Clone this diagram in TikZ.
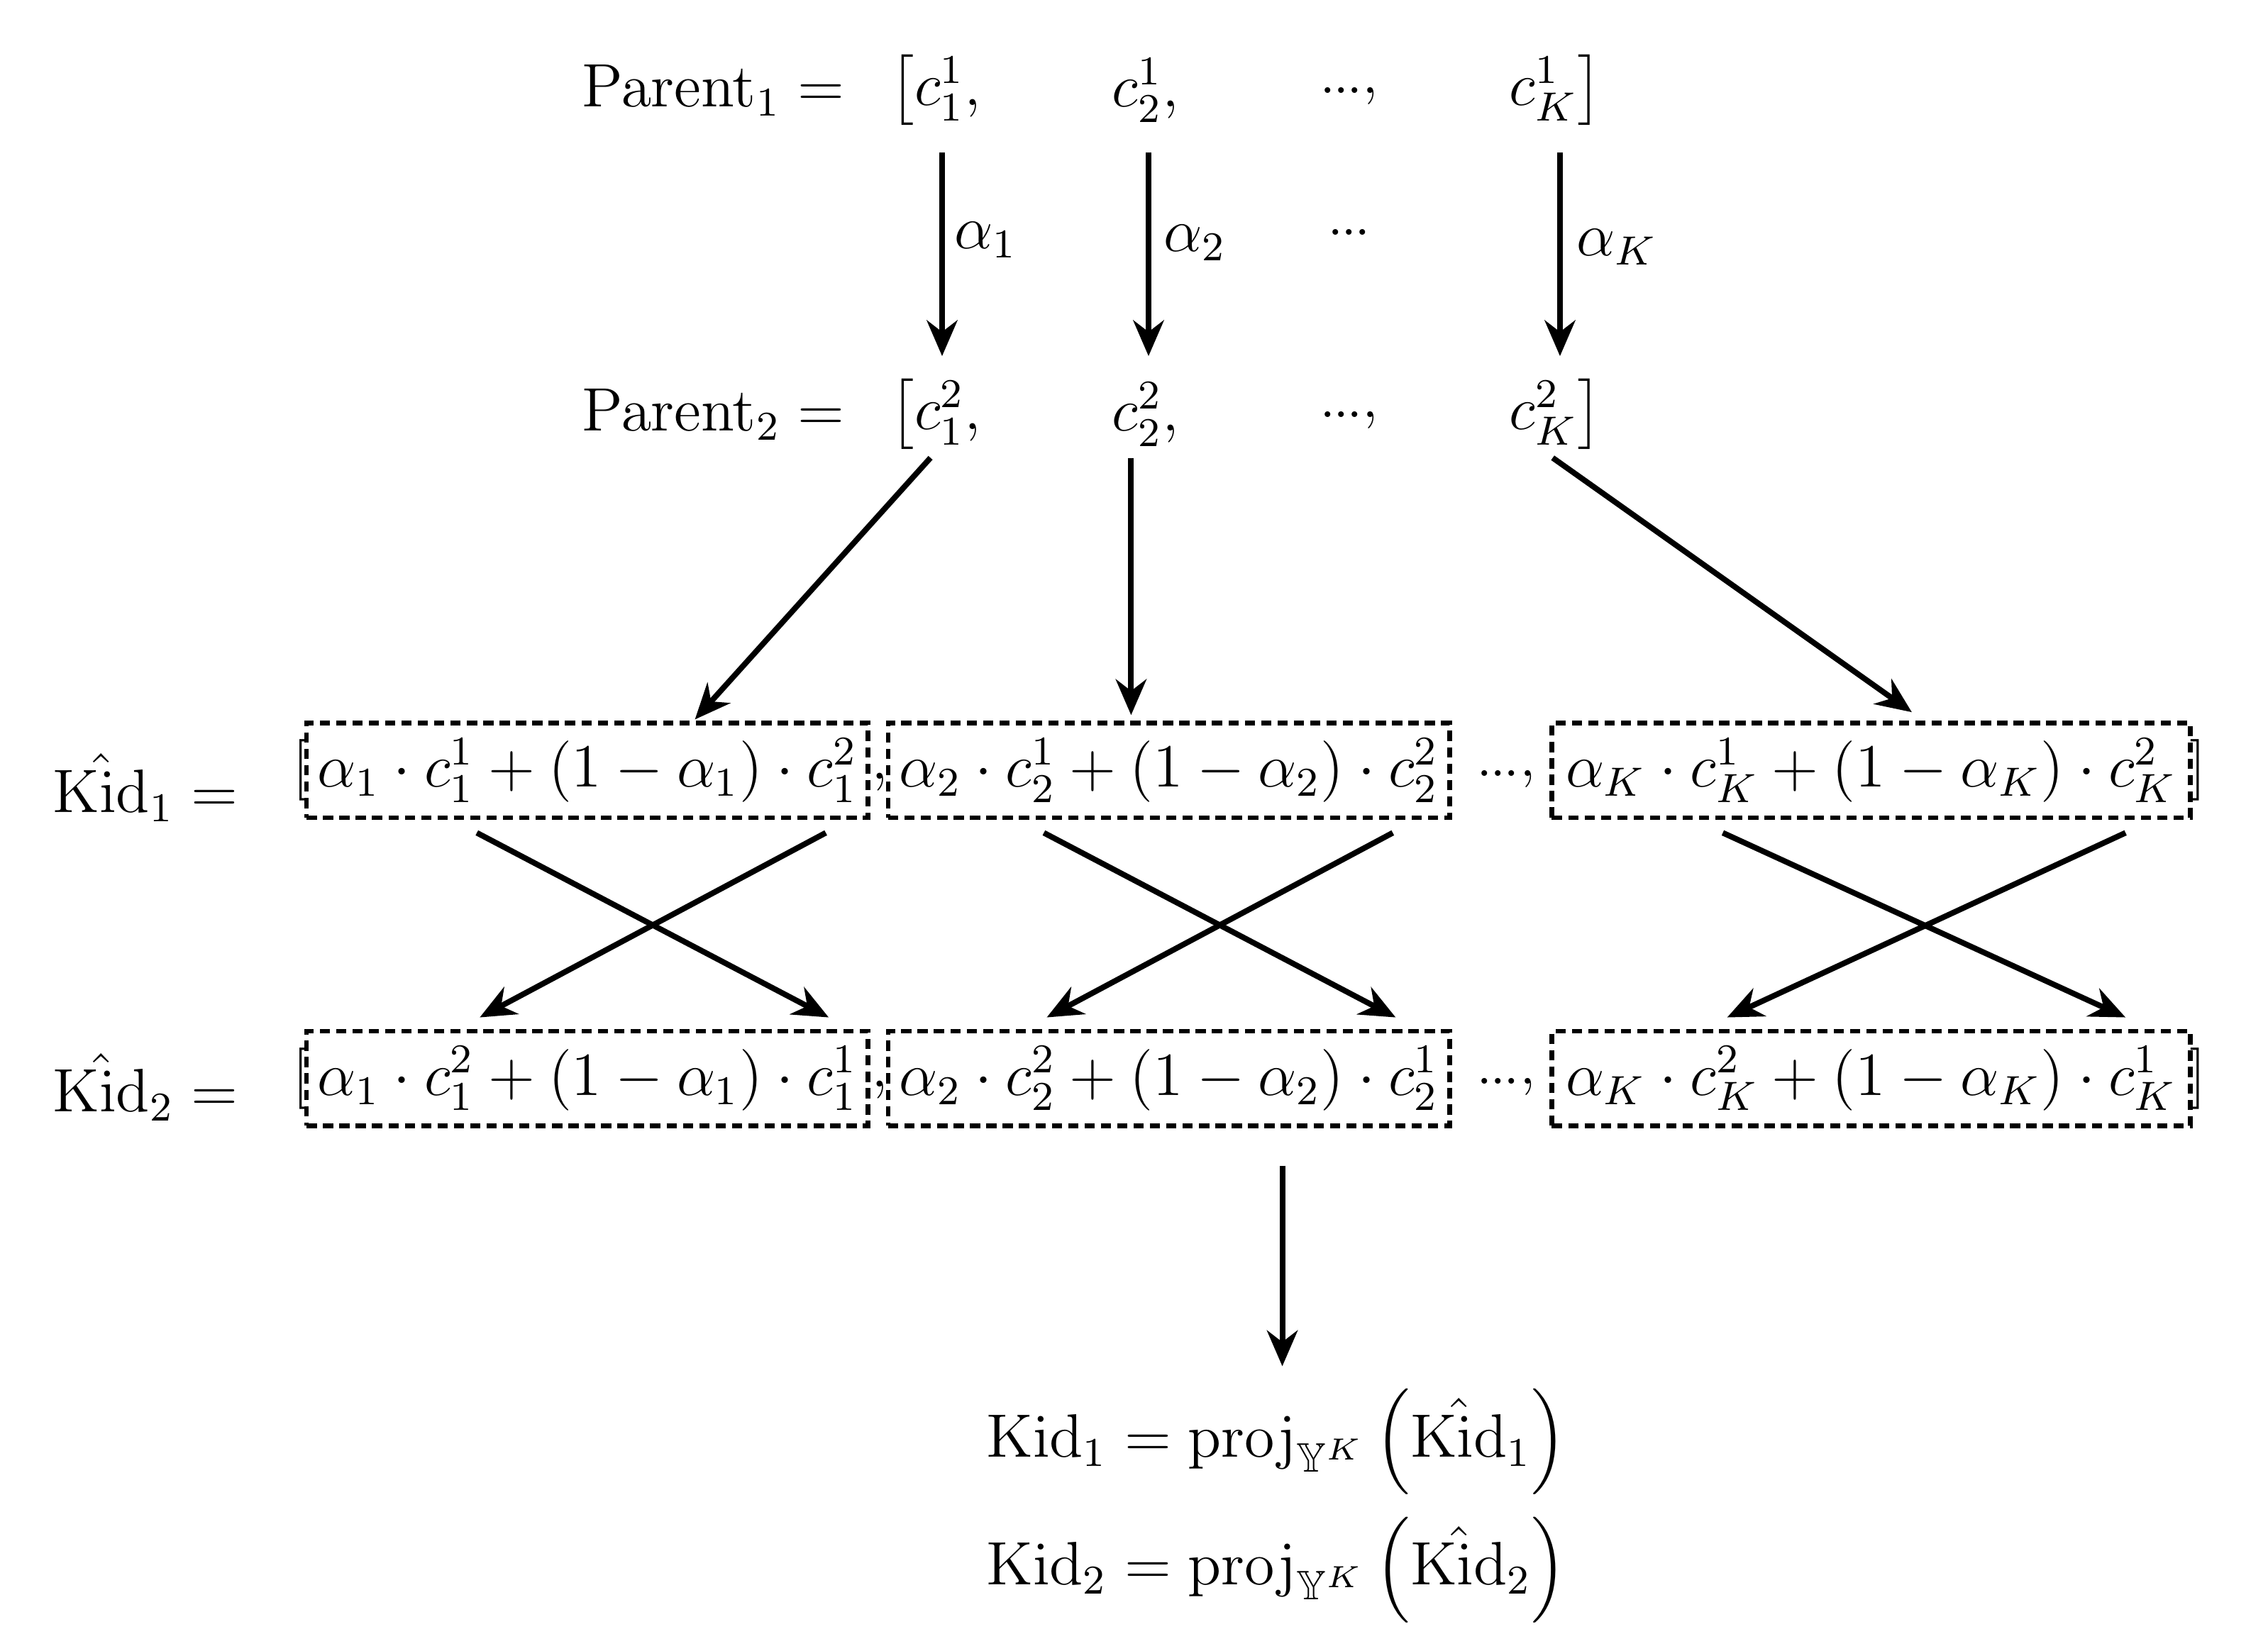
\documentclass[tikz,border=0pt]{standalone}
\usepackage{amsmath,amssymb}
\usetikzlibrary{arrows.meta}
\begin{document}
\begin{tikzpicture}[x=0.01cm,y=-0.01cm,font=\fontsize{11.5}{14}\selectfont,
  arr/.style={-{Stealth[length=7pt,width=6pt]},line width=1.1pt},
  box/.style={draw,dashed,line width=0.9pt,dash pattern=on 2pt off 1.2pt,minimum width=3.86cm,minimum height=0.65cm,inner sep=0pt},
  t/.style={inner sep=1pt}]
\useasboundingbox (0,0) rectangle (1560,1124);
% parent rows
\node[t,anchor=east] (P1) at (585,62) {$\mathrm{Parent}_1=$};
\node[t,anchor=west] (p11) at (608,62) {$\big[c_1^1,$};
\node[t] (p12) at (788,62) {$c_2^1,$};
\node[t] (p1d) at (928,66) {.\kern-0.5pt.\kern-0.5pt.,};
\node[t] (p1k) at (1070,62) {$c_K^1\big]$};
\node[t,anchor=east] (P2) at (585,285) {$\mathrm{Parent}_2=$};
\node[t,anchor=west] (p21) at (608,285) {$\big[c_1^2,$};
\node[t] (p22) at (788,285) {$c_2^2,$};
\node[t] (p2d) at (928,289) {.\kern-0.5pt.\kern-0.5pt.,};
\node[t] (p2k) at (1070,285) {$c_K^2\big]$};
\coordinate (a1s) at (648,105); \coordinate (a1e) at (648,245);
\coordinate (a2s) at (790,105); \coordinate (a2e) at (790,245);
\coordinate (aks) at (1073,105); \coordinate (ake) at (1073,245);
\draw[arr] (a1s) -- (a1e); \draw[arr] (a2s) -- (a2e); \draw[arr] (aks) -- (ake);
\node[t] (l1) at (678,165) {$\alpha_1$};
\node[t] (l2) at (822,167) {$\alpha_2$};
\node[t] (ld) at (928,160) {.\kern-0.5pt.\kern-0.5pt.};
\node[t] (lk) at (1112,170) {$\alpha_K$};
% kid rows
\node[t] (K1) at (100,542) {$\hat{\mathrm{Kid}}_1=$};
\node[t] (K2) at (100,748) {$\hat{\mathrm{Kid}}_2=$};
\node[box] (b11) at (404,530) {$\alpha_1\cdot c_1^1+(1-\alpha_1)\cdot c_1^2$};
\node[box] (b12) at (804,530) {$\alpha_2\cdot c_2^1+(1-\alpha_2)\cdot c_2^2$};
\node[box,minimum width=4.39cm] (b1k) at (1287,530) {$\alpha_K\cdot c_K^1+(1-\alpha_K)\cdot c_K^2$};
\node[box] (b21) at (404,742) {$\alpha_1\cdot c_1^2+(1-\alpha_1)\cdot c_1^1$};
\node[box] (b22) at (804,742) {$\alpha_2\cdot c_2^2+(1-\alpha_2)\cdot c_2^1$};
\node[box,minimum width=4.39cm] (b2k) at (1287,742) {$\alpha_K\cdot c_K^2+(1-\alpha_K)\cdot c_K^1$};
\foreach \r/\y in {1/530,2/742}{
  \node[t] (lb\r) at (207,\y) {$[$};
  \node[t] (c1\r) at (605,\y+8) {$,$};
  \node[t] (dd\r) at (1036,\y+6) {.\kern-0.5pt.\kern-0.5pt.,};
  \node[t] (rb\r) at (1512,\y) {$]$};
}
% parent2 -> kid1
\coordinate (q1) at (640,315); \coordinate (q2) at (778,315); \coordinate (q3) at (1068,315);
\draw[arr] (q1) -- (478,495);
\draw[arr] (q2) -- (778,492);
\draw[arr] (q3) -- (1315,490);
% crosses
\foreach \xa/\xb/\xc/\xd in {328/570/568/330, 718/960/958/720, 1185/1462/1462/1188}{
  \draw[arr] (\xa,573) -- (\xb,700);
  \draw[arr] (\xc,573) -- (\xd,700);
}
% down arrow
\coordinate (d1) at (882,802); \coordinate (d2) at (882,940);
\draw[arr] (d1) -- (d2);
\node[t] (r1) at (878,992) {$\mathrm{Kid}_1=\mathrm{proj}_{\mathbb{Y}^K}\left(\hat{\mathrm{Kid}}_1\right)$};
\node[t] (r2) at (878,1080) {$\mathrm{Kid}_2=\mathrm{proj}_{\mathbb{Y}^K}\left(\hat{\mathrm{Kid}}_2\right)$};
\end{tikzpicture}
\end{document}
